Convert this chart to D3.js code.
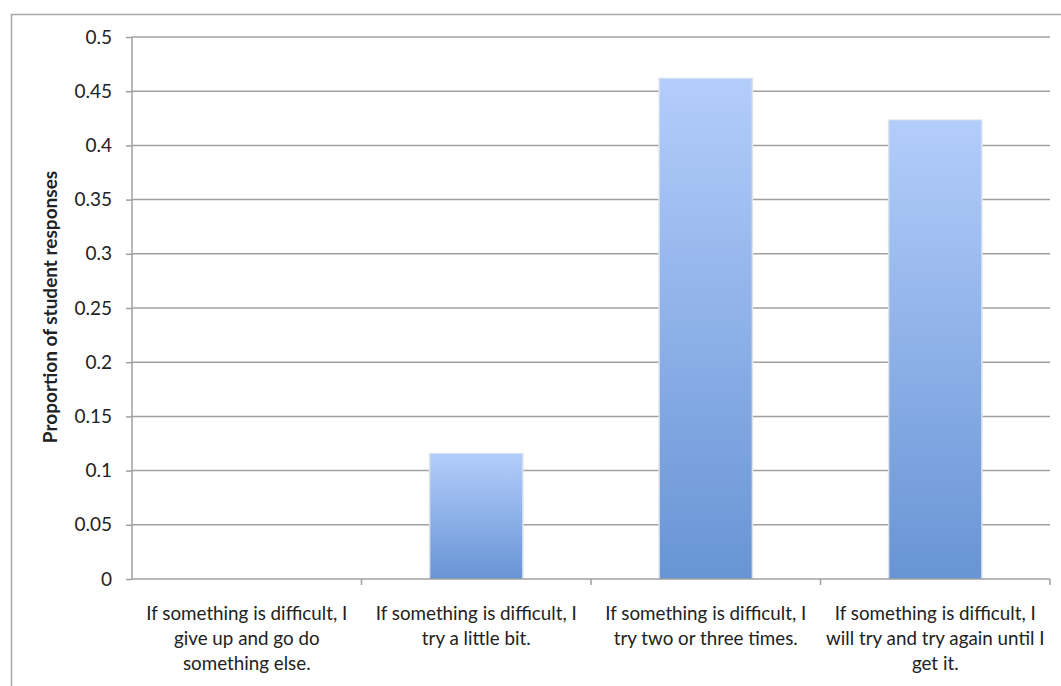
<!DOCTYPE html>
<head>
    <title>Student responses</title>
    <script src='https://d3js.org/d3.v7.min.js'></script>
</head>
<style>
body {
  margin: 0;
  background: #fff;
  font-family: Lato, 'Open Sans', Arial, sans-serif;
}
text {
  fill: #222;
}
</style>
<body>
    <svg></svg>
</body>

<script>
    // Categories (line breaks as in the original chart)
    var categories = [
        'If something is difficult, I\ngive up and go do\nsomething else.',
        'If something is difficult, I\ntry a little bit.',
        'If something is difficult, I\ntry two or three times.',
        'If something is difficult, I\nwill try and try again until I\nget it.'
    ];
    // Proportion of student responses
    var proportions = [0, 0.1154, 0.4615, 0.4231];
    var yTicks = [0, 0.05, 0.1, 0.15, 0.2, 0.25, 0.3, 0.35, 0.4, 0.45, 0.5];
    var yTitle = 'Proportion of student responses';

    var vWidth = 1061;
    var vHeight = 686;
    var margin = { left: 132, right: 11, top: 37, bottom: 107 };

    var svg = d3.select('svg')
        .attr('width', vWidth)
        .attr('height', vHeight);

    // Bar gradient (light at top, darker at bottom)
    var grad = svg.append('defs').append('linearGradient')
        .attr('id', 'barGrad')
        .attr('x1', 0).attr('y1', 0).attr('x2', 0).attr('y2', 1);
    grad.append('stop').attr('offset', '0%').attr('stop-color', '#b3cdfb');
    grad.append('stop').attr('offset', '100%').attr('stop-color', '#6894d5');

    // Outer chart frame (top and left edges only visible)
    svg.append('path')
        .attr('d', 'M11.5,' + vHeight + 'V14.5H' + vWidth)
        .attr('fill', 'none')
        .attr('stroke', '#a8a8a8')
        .attr('stroke-width', 1.5);

    var x = d3.scaleBand()
        .domain(d3.range(categories.length))
        .range([margin.left, vWidth - margin.right])
        .paddingInner(0.6)
        .paddingOuter(0.3);
    var step = x.step();

    var y = d3.scaleLinear()
        .domain([0, 0.5])
        .range([vHeight - margin.bottom, margin.top]);

    // Gridlines
    svg.append('g').selectAll('line').data(yTicks.slice(1)).enter().append('line')
        .attr('x1', margin.left).attr('x2', vWidth - margin.right)
        .attr('y1', function (d) { return y(d); })
        .attr('y2', function (d) { return y(d); })
        .attr('stroke', '#a0a0a0')
        .attr('stroke-width', 1.5);

    // Y axis
    var yAxis = svg.append('g')
        .attr('transform', 'translate(' + margin.left + ',0)')
        .call(d3.axisLeft(y).tickValues(yTicks).tickSize(6).tickPadding(14)
            .tickFormat(function (d) { return String(+d.toFixed(2)); }));
    yAxis.selectAll('line, path').attr('stroke', '#a0a0a0').attr('stroke-width', 1.5);
    yAxis.select('.domain').attr('d', 'M0,' + y(0) + 'V' + y(0.5));
    yAxis.selectAll('text')
        .style('font-family', 'Lato, sans-serif')
        .style('font-size', '19px')
        .attr('fill', '#222');

    // Bars with a faint shadow
    var bars = svg.append('g');
    bars.selectAll('rect.shadow').data(proportions).enter().append('rect')
        .attr('class', 'shadow')
        .attr('x', function (d, i) { return x(i) - 1.5; })
        .attr('width', x.bandwidth() + 3)
        .attr('y', function (d) { return y(d) - 1; })
        .attr('height', function (d) { return d > 0 ? y(0) - y(d) + 1 : 0; })
        .attr('fill', '#dde3ea');
    bars.selectAll('rect.bar').data(proportions).enter().append('rect')
        .attr('class', 'bar')
        .attr('x', function (d, i) { return x(i); })
        .attr('width', x.bandwidth())
        .attr('y', function (d) { return y(d); })
        .attr('height', function (d) { return y(0) - y(d); })
        .attr('fill', 'url(#barGrad)');

    // X axis line with category boundary ticks
    var xg = svg.append('g');
    xg.append('line')
        .attr('x1', margin.left).attr('x2', vWidth - margin.right)
        .attr('y1', y(0)).attr('y2', y(0))
        .attr('stroke', '#a0a0a0').attr('stroke-width', 1.5);
    xg.selectAll('line.tick').data(d3.range(1, categories.length + 1)).enter().append('line')
        .attr('class', 'tick')
        .attr('x1', function (d) { return margin.left + d * step; })
        .attr('x2', function (d) { return margin.left + d * step; })
        .attr('y1', y(0)).attr('y2', y(0) + 6)
        .attr('stroke', '#a0a0a0').attr('stroke-width', 1.5);

    // Category labels
    xg.selectAll('text').data(categories).enter().append('text')
        .attr('text-anchor', 'middle')
        .style('font-size', '18.8px')
        .attr('transform', function (d, i) {
            return 'translate(' + (x(i) + x.bandwidth() / 2) + ',' + (y(0) + 41) + ')';
        })
        .selectAll('tspan').data(function (d) { return d.split('\n'); }).enter().append('tspan')
        .attr('x', 0)
        .attr('dy', function (d, i) { return i ? 24.8 : 0; })
        .text(function (d) { return d; });

    // Y title
    svg.append('text')
        .attr('transform', 'translate(57,' + (y(0.25) - 1) + ')rotate(-90)')
        .attr('text-anchor', 'middle')
        .style('font-size', '19px')
        .style('font-weight', 'bold')
        .text(yTitle);
</script>
